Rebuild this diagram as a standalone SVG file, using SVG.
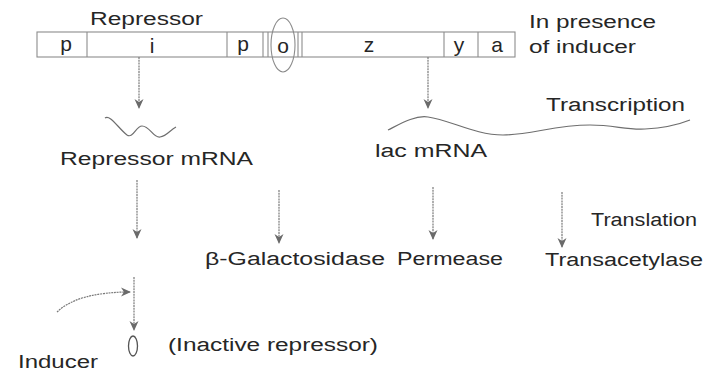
<svg xmlns="http://www.w3.org/2000/svg" width="710" height="374" viewBox="0 0 710 374">
<style>
  .t { font-family: "Liberation Sans", Arial, sans-serif; font-size: 18px; fill: #262626; }
  .g { font-family: "Liberation Sans", Arial, sans-serif; font-size: 21px; fill: #262626; text-anchor: middle; }
  .bar { fill: none; stroke: #8c8c8c; stroke-width: 1.1; }
  .div { stroke: #8c8c8c; stroke-width: 1.1; }
  .arr { fill: none; stroke: #7a7a7a; stroke-width: 1.2; stroke-dasharray: 2 0.8; marker-end: url(#ah); }
  .wave { fill: none; stroke: #6e6e6e; stroke-width: 1.2; }
</style>
<defs>
  <marker id="ah" viewBox="0 0 10 10" refX="9" refY="5" markerWidth="10" markerHeight="10" markerUnits="userSpaceOnUse" orient="auto">
    <path d="M0,0.5 L10,5 L0,9.5 L3,5 Z" fill="#6a6a6a"/>
  </marker>
</defs>
<rect width="710" height="374" fill="#ffffff"/>

<g id="gene-bar">
  <rect class="bar" x="37" y="32" width="478" height="25"/>
  <line class="div" x1="87" y1="32" x2="87" y2="57"/>
  <line class="div" x1="227" y1="32" x2="227" y2="57"/>
  <line class="div" x1="263" y1="32" x2="263" y2="57"/>
  <line class="div" x1="268" y1="32" x2="268" y2="57"/>
  <line class="div" x1="298" y1="32" x2="298" y2="57"/>
  <line class="div" x1="302" y1="32" x2="302" y2="57"/>
  <line class="div" x1="444" y1="32" x2="444" y2="57"/>
  <line class="div" x1="478" y1="32" x2="478" y2="57"/>
  <text class="g" x="66" y="51">p</text>
  <text class="g" x="152" y="53">i</text>
  <text class="g" x="243" y="51">p</text>
  <text class="g" x="283" y="53">o</text>
  <text class="g" x="369" y="52">z</text>
  <text class="g" x="459" y="52">y</text>
  <text class="g" x="497" y="52">a</text>
  <ellipse cx="283" cy="45" rx="12" ry="27" fill="none" stroke="#8c8c8c" stroke-width="1.1"/>
</g>

<g id="label-repressor"><text class="t" x="90" y="25" textLength="113" lengthAdjust="spacingAndGlyphs">Repressor</text></g>
<g id="label-inducer-presence">
  <text class="t" x="529" y="28" textLength="127" lengthAdjust="spacingAndGlyphs">In presence</text>
  <text class="t" x="529" y="53" textLength="107" lengthAdjust="spacingAndGlyphs">of inducer</text>
</g>

<g id="repressor-mrna">
  <path class="wave" d="M105,118 C110,114 118,128 127,135 C133,139 136,126 142,126 C150,126 153,138 160,137 C167,136 170,130 176,127"/>
  <text class="t" x="60" y="165" textLength="193" lengthAdjust="spacingAndGlyphs">Repressor mRNA</text>
</g>

<g id="lac-mrna">
  <path class="wave" d="M388,130 C400,124 415,115 428,117 C450,120 475,135 503,135 C530,135 555,125 590,125 C615,125 625,130 645,129 C665,128 680,124 690,120"/>
  <text class="t" x="375" y="157" textLength="112" lengthAdjust="spacingAndGlyphs">lac mRNA</text>
</g>

<g id="label-transcription"><text class="t" x="546" y="111" textLength="139" lengthAdjust="spacingAndGlyphs">Transcription</text></g>
<g id="label-translation"><text class="t" x="591" y="226" textLength="106" lengthAdjust="spacingAndGlyphs">Translation</text></g>

<g id="b-galactosidase"><text class="t" x="205" y="265" textLength="180" lengthAdjust="spacingAndGlyphs">β-Galactosidase</text></g>
<g id="permease"><text class="t" x="397" y="265" textLength="106" lengthAdjust="spacingAndGlyphs">Permease</text></g>
<g id="transacetylase"><text class="t" x="545" y="266" textLength="158" lengthAdjust="spacingAndGlyphs">Transacetylase</text></g>

<g id="inactive-repressor">
  <ellipse cx="133" cy="346" rx="4.5" ry="10" fill="none" stroke="#555" stroke-width="1.3"/>
  <text class="t" x="168" y="351" textLength="210" lengthAdjust="spacingAndGlyphs">(Inactive repressor)</text>
</g>
<g id="inducer"><text class="t" x="18" y="368" textLength="80" lengthAdjust="spacingAndGlyphs">Inducer</text></g>

<g id="connectors">
  <line class="arr" x1="139" y1="57" x2="139" y2="108"/>
  <line class="arr" x1="428" y1="57" x2="428" y2="108"/>
  <line class="arr" x1="137" y1="180" x2="137" y2="238"/>
  <line class="arr" x1="279" y1="190" x2="279" y2="243"/>
  <line class="arr" x1="433" y1="187" x2="433" y2="239"/>
  <line class="arr" x1="562" y1="192" x2="562" y2="247"/>
  <line class="arr" x1="134" y1="277" x2="134" y2="330"/>
  <path class="arr" d="M57,312 Q78,292 130,292"/>
</g>
</svg>
